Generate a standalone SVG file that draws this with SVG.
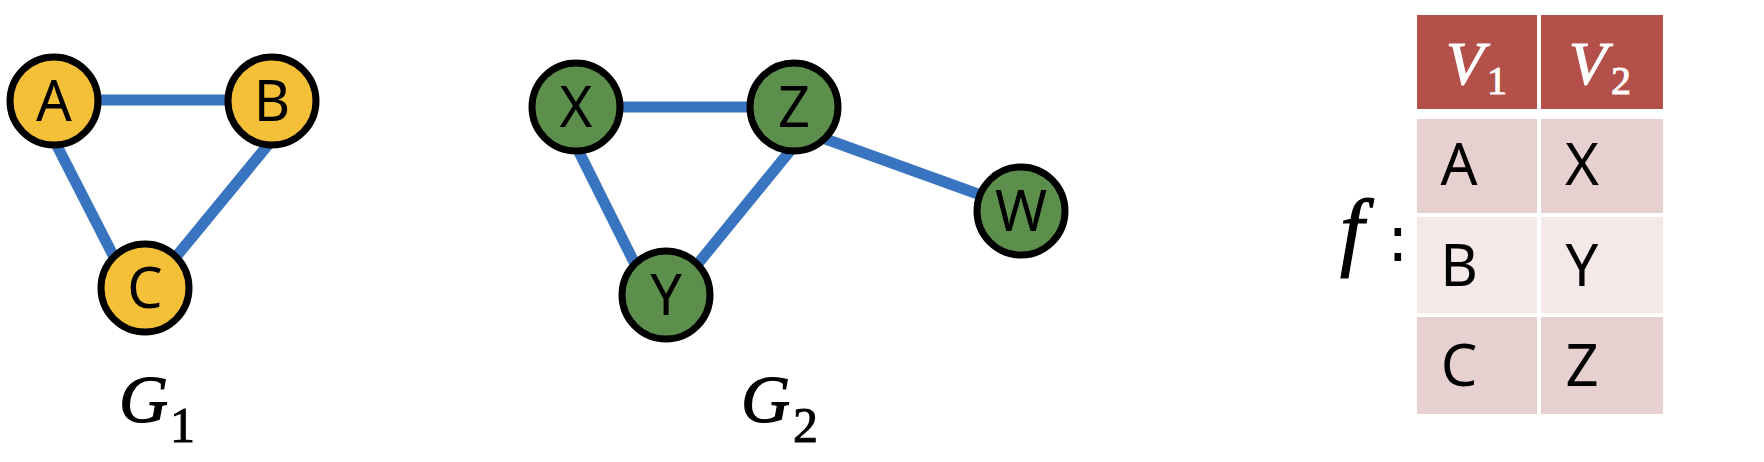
<svg xmlns="http://www.w3.org/2000/svg" width="1764" height="462" viewBox="0 0 1764 462">
<style>
.edge{stroke:#3874bf;stroke-width:11;fill:none}
.n1{fill:#f4c037;stroke:#000;stroke-width:7}
.n2{fill:#5c8f4c;stroke:#000;stroke-width:7}
.lbl{font-family:"Noto Sans","Open Sans",sans-serif;font-size:56px;fill:#000;text-anchor:middle}
.cell{font-family:"Noto Sans","Open Sans",sans-serif;font-size:58px;fill:#000;text-anchor:middle}
.math{font-family:"Liberation Serif","Times New Roman",serif;font-style:italic;stroke-width:1.2}
.sub{font-family:"Liberation Serif","Times New Roman",serif;font-style:normal;stroke-width:1}
.blk{fill:#000;stroke:#000}
.wht{fill:#fff;stroke:#fff}
.hdr{fill:#b4504a}
.odd{fill:#e6d0d0}
.even{fill:#f4e8e8}
</style>
<rect width="1764" height="462" fill="#fff"/>
<g id="connectors">
<line class="edge" x1="54" y1="100" x2="272" y2="100"/>
<line class="edge" x1="54" y1="140" x2="115" y2="259"/>
<line class="edge" x1="272" y1="140" x2="175" y2="258"/>
<line class="edge" x1="576" y1="107" x2="794" y2="107"/>
<line class="edge" x1="576" y1="146" x2="636" y2="266"/>
<line class="edge" x1="794" y1="146" x2="696" y2="266"/>
<line class="edge" x1="820" y1="137" x2="1000" y2="202"/>
</g>
<g id="node-A"><circle class="n1" cx="54" cy="101" r="44"/><text class="lbl" x="54" y="121">A</text></g>
<g id="node-B"><circle class="n1" cx="272" cy="101" r="44"/><text class="lbl" x="272" y="121">B</text></g>
<g id="node-C"><circle class="n1" cx="145" cy="288" r="44"/><text class="lbl" x="145" y="308">C</text></g>
<g id="node-X"><circle class="n2" cx="576" cy="107" r="44"/><text class="lbl" x="576" y="127">X</text></g>
<g id="node-Z"><circle class="n2" cx="794" cy="107" r="44"/><text class="lbl" x="794" y="127">Z</text></g>
<g id="node-Y"><circle class="n2" cx="666" cy="295" r="44"/><text class="lbl" x="666" y="315">Y</text></g>
<g id="node-W"><circle class="n2" cx="1021" cy="211" r="44"/><text class="lbl" x="1021" y="231">W</text></g>
<g id="label-G1"><text class="math blk" x="119" y="422" font-size="68">G</text><text class="sub blk" x="170" y="442" font-size="50">1</text></g>
<g id="label-G2"><text class="math blk" x="741" y="422" font-size="68">G</text><text class="sub blk" x="793" y="442" font-size="50">2</text></g>
<g id="label-f"><text class="math blk" x="1340" y="259" font-size="86">f</text><text x="1387" y="261" font-family="DejaVu Sans,sans-serif" font-size="64" fill="#000">:</text></g>
<g id="table">
<rect class="hdr" x="1417" y="15" width="120" height="94"/>
<rect class="hdr" x="1541" y="15" width="122" height="94"/>
<rect class="odd" x="1417" y="119" width="120" height="94"/>
<rect class="odd" x="1541" y="119" width="122" height="94"/>
<rect class="even" x="1417" y="217" width="120" height="96"/>
<rect class="even" x="1541" y="217" width="122" height="96"/>
<rect class="odd" x="1417" y="317" width="120" height="97"/>
<rect class="odd" x="1541" y="317" width="122" height="97"/>
<text class="math wht" x="1446" y="84" font-size="62">V</text><text class="sub wht" x="1487" y="94" font-size="40">1</text>
<text class="math wht" x="1569" y="84" font-size="62">V</text><text class="sub wht" x="1611" y="94" font-size="40">2</text>
<text class="cell" x="1459" y="185">A</text>
<text class="cell" x="1582" y="185">X</text>
<text class="cell" x="1459" y="286">B</text>
<text class="cell" x="1582" y="286">Y</text>
<text class="cell" x="1459" y="386">C</text>
<text class="cell" x="1582" y="386">Z</text>
</g>
</svg>
